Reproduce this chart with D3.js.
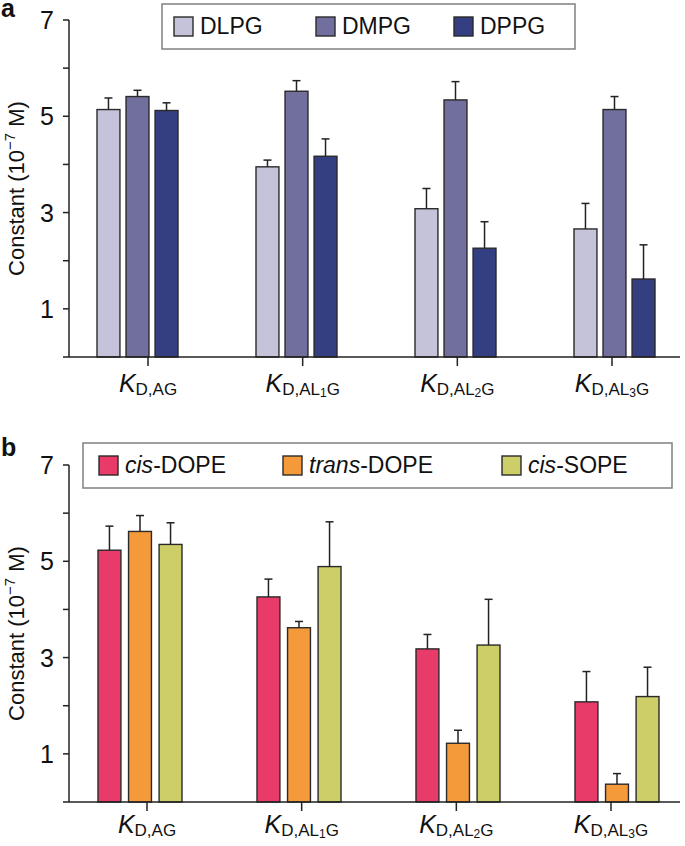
<!DOCTYPE html>
<html>
<head>
<meta charset="utf-8">
<script src="https://cdn.jsdelivr.net/npm/d3@7"></script>
<style>
  body { margin: 0; background: #fff; }
  svg text { font-family: "Liberation Sans", Arial, Helvetica, sans-serif; fill: #111; }
</style>
</head>
<body>
<div id="chart"></div>
<script>
// categories (x groups), shared by both panels
const categories = ["AG", "AL1G", "AL2G", "AL3G"];
const yTicks = [1, 2, 3, 4, 5, 6, 7];
const yTickLabels = [1, 3, 5, 7];

// panel a
const seriesA = ["DLPG", "DMPG", "DPPG"];
const colorsA = ["#c4c3da", "#716f9d", "#343f82"];
const valuesA = [
  [5.14, 3.95, 3.08, 2.66],   // DLPG
  [5.41, 5.52, 5.34, 5.14],   // DMPG
  [5.12, 4.17, 2.26, 1.62]    // DPPG
];
const errorsA = [
  [0.24, 0.14, 0.42, 0.53],
  [0.13, 0.22, 0.38, 0.27],
  [0.16, 0.36, 0.55, 0.71]
];

// panel b
const seriesB = [["cis", "-DOPE"], ["trans", "-DOPE"], ["cis", "-SOPE"]];
const colorsB = ["#e83b69", "#f59a3b", "#cdce68"];
const valuesB = [
  [5.23, 4.26, 3.18, 2.08],   // cis-DOPE
  [5.62, 3.62, 1.22, 0.37],   // trans-DOPE
  [5.35, 4.89, 3.26, 2.19]    // cis-SOPE
];
const errorsB = [
  [0.50, 0.37, 0.30, 0.63],
  [0.33, 0.13, 0.27, 0.22],
  [0.45, 0.93, 0.95, 0.61]
];

const W = 685, H = 846;
const svg = d3.select("#chart").append("svg")
  .attr("width", W).attr("height", H);

function drawPanel(cfg) {
  const g = svg.append("g").attr("transform", `translate(0,${cfg.top})`);
  const axisX = 69, y0 = 337, y7 = 0;

  const y = d3.scaleLinear().domain([0, 7]).range([y0, y7]);
  const xGroup = d3.scaleBand().domain(categories).range([cfg.groupStart, cfg.groupStart + 4 * 159]);
  const xInner = d3.scaleBand().domain(d3.range(3)).range([0, cfg.innerWidth]).paddingInner(cfg.innerPad);
  const xTick = d3.scalePoint().domain(categories).range(cfg.tickRange);

  // bars
  cfg.values.forEach((vals, si) => {
    categories.forEach((c, ci) => {
      const x = xGroup(c) + xInner(si);
      const bw = xInner.bandwidth();
      const v = vals[ci], e = cfg.errors[si][ci];
      g.append("rect")
        .attr("x", x).attr("y", y(v))
        .attr("width", bw).attr("height", y(0) - y(v))
        .attr("fill", cfg.colors[si])
        .attr("stroke", "#2a2a2a").attr("stroke-width", 1.4);
      const cx = x + bw / 2;
      g.append("line")
        .attr("x1", cx).attr("x2", cx).attr("y1", y(v)).attr("y2", y(v + e))
        .attr("stroke", "#222").attr("stroke-width", 1.5);
      g.append("line")
        .attr("x1", cx - 4).attr("x2", cx + 4).attr("y1", y(v + e)).attr("y2", y(v + e))
        .attr("stroke", "#222").attr("stroke-width", 1.5);
    });
  });

  // y axis
  g.append("line").attr("x1", axisX).attr("x2", axisX).attr("y1", y(7)).attr("y2", y(0))
    .attr("stroke", "#222").attr("stroke-width", 1.5);
  yTicks.forEach(t => {
    g.append("line").attr("x1", axisX - 6).attr("x2", axisX).attr("y1", y(t)).attr("y2", y(t))
      .attr("stroke", "#222").attr("stroke-width", 1.5);
  });
  yTickLabels.forEach(t => {
    g.append("text").attr("x", axisX - 15).attr("y", y(t)).attr("dy", "0.36em")
      .attr("text-anchor", "end").attr("font-size", 25).text(t);
  });

  // x axis
  g.append("line").attr("x1", axisX - 6).attr("x2", 680).attr("y1", y(0)).attr("y2", y(0))
    .attr("stroke", "#222").attr("stroke-width", 1.5);
  categories.forEach((c, i) => {
    const tx = xTick(c);
    g.append("line").attr("x1", tx).attr("x2", tx).attr("y1", y(0)).attr("y2", y(0) + 9)
      .attr("stroke", "#222").attr("stroke-width", 1.5);
    const t = g.append("text").attr("x", tx).attr("y", y(0) + cfg.labelOffset)
      .attr("text-anchor", "middle");
    t.append("tspan").attr("font-size", 25).attr("font-style", "italic").text("K");
    if (i === 0) {
      t.append("tspan").attr("font-size", 17).attr("dy", 3).text("D,AG");
    } else {
      t.append("tspan").attr("font-size", 17).attr("dy", 3).text("D,AL");
      t.append("tspan").attr("font-size", 12).attr("dy", 2).text(String(i));
      t.append("tspan").attr("font-size", 17).attr("dy", -2).text("G");
    }
  });

  // y label
  const yl = g.append("text")
    .attr("transform", `translate(24,${y(3.5)}) rotate(-90)`)
    .attr("text-anchor", "middle").attr("font-size", 22);
  yl.append("tspan").text("Constant (10");
  yl.append("tspan").attr("font-size", 15).attr("dy", -9).text("\u22127");
  yl.append("tspan").attr("dy", 9).text(" M)");

  // panel letter
  svg.append("text").attr("x", 1).attr("y", cfg.letterY)
    .attr("font-size", 25).attr("font-weight", "bold").text(cfg.letter);

  // legend
  const lg = svg.append("g");
  lg.append("rect").attr("x", cfg.legend.x).attr("y", cfg.legend.y)
    .attr("width", cfg.legend.w).attr("height", cfg.legend.h)
    .attr("fill", "#fff").attr("stroke", "#808080").attr("stroke-width", 1.5);
  cfg.legend.items.forEach((sx, si) => {
    const sy = cfg.legend.y + 13;
    lg.append("rect").attr("x", sx).attr("y", sy).attr("width", 19).attr("height", 19)
      .attr("fill", cfg.colors[si]).attr("stroke", "#2a2a2a").attr("stroke-width", 1.4);
    const t = lg.append("text").attr("x", sx + 26).attr("y", sy + 17).attr("font-size", 23);
    const name = cfg.names[si];
    if (Array.isArray(name)) {
      t.append("tspan").attr("font-style", "italic").text(name[0]);
      t.append("tspan").text(name[1]);
    } else {
      t.text(name);
    }
  });
}

drawPanel({
  top: 20, letter: "a", letterY: 17, labelOffset: 35,
  values: valuesA, errors: errorsA, colors: colorsA, names: seriesA,
  groupStart: 97, innerWidth: 81, innerPad: 0.21, tickRange: [148, 612],
  legend: { x: 162, y: 4, w: 413, h: 45, items: [174, 316, 454] }
});

drawPanel({
  top: 465, letter: "b", letterY: 456, labelOffset: 31,
  values: valuesB, errors: errorsB, colors: colorsB, names: seriesB,
  groupStart: 98, innerWidth: 84, innerPad: 0.25, tickRange: [147, 611],
  legend: { x: 83, y: 443, w: 589, h: 45, items: [99, 283, 502] }
});
</script>
</body>
</html>
